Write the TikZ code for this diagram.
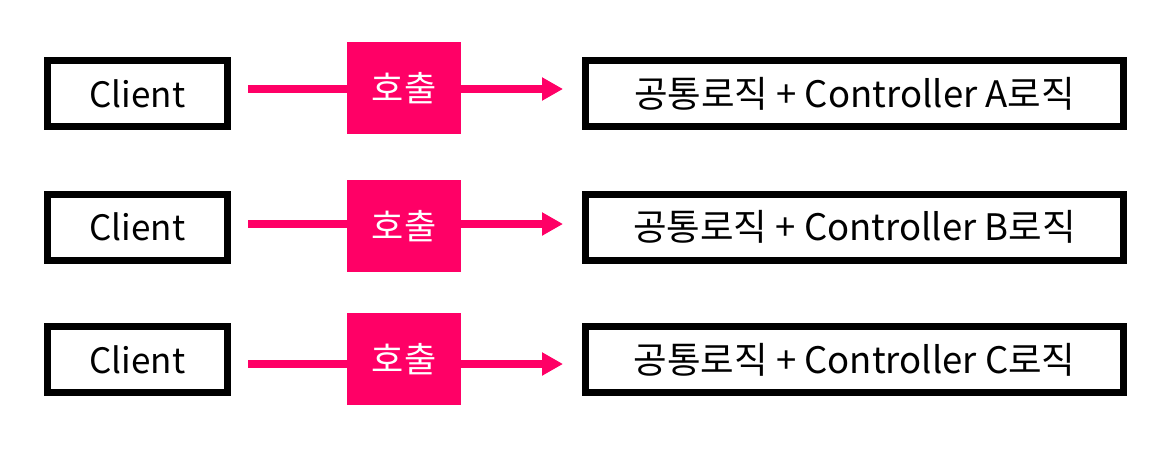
\documentclass[tikz,border=0pt]{standalone}
\usepackage{fontspec}
\setmainfont{Noto Sans CJK KR}
\usetikzlibrary{arrows.meta}
\definecolor{hotpink}{HTML}{FF0066}
\tikzset{
  blackbox/.style={draw=black, line width=7pt, fill=white, inner sep=0pt, font=\fontsize{35}{40}\selectfont},
  clientbox/.style={blackbox, minimum width=180pt, minimum height=66pt},
  logicbox/.style={blackbox, minimum width=538pt, minimum height=66pt, font=\fontsize{36.5}{40}\selectfont},
  callbox/.style={fill=hotpink, text=white, inner sep=0pt, minimum width=114pt, minimum height=92pt, font=\fontsize{35}{40}\selectfont},
  callarrow/.style={draw=hotpink, line width=7.5pt, -{Triangle[length=21pt,width=22pt]}}
}
\begin{document}
\begin{tikzpicture}[x=1pt,y=-1pt]
\useasboundingbox (0,0) rectangle (1160,450);
% row 1
\node[clientbox] (c1) at (137.5,93.5) {Client};
\node[logicbox] (l1) at (854.5,93.5) {공통로직 + Controller A로직};
\coordinate (s1) at (248,89);
\coordinate (e1) at (563,89);
\draw[callarrow] (s1) -- (e1);
\node[callbox] (h1) at (404,88) {호출};
% row 2
\node[clientbox] (c2) at (137.5,227) {Client};
\node[logicbox] (l2) at (854.5,227) {공통로직 + Controller B로직};
\coordinate (s2) at (248,224);
\coordinate (e2) at (563,224);
\draw[callarrow] (s2) -- (e2);
\node[callbox] (h2) at (404,226) {호출};
% row 3
\node[clientbox] (c3) at (137.5,359.5) {Client};
\node[logicbox] (l3) at (854.5,359.5) {공통로직 + Controller C로직};
\coordinate (s3) at (248,364);
\coordinate (e3) at (563,364);
\draw[callarrow] (s3) -- (e3);
\node[callbox] (h3) at (404,358.7) {호출};
\end{tikzpicture}
\end{document}
